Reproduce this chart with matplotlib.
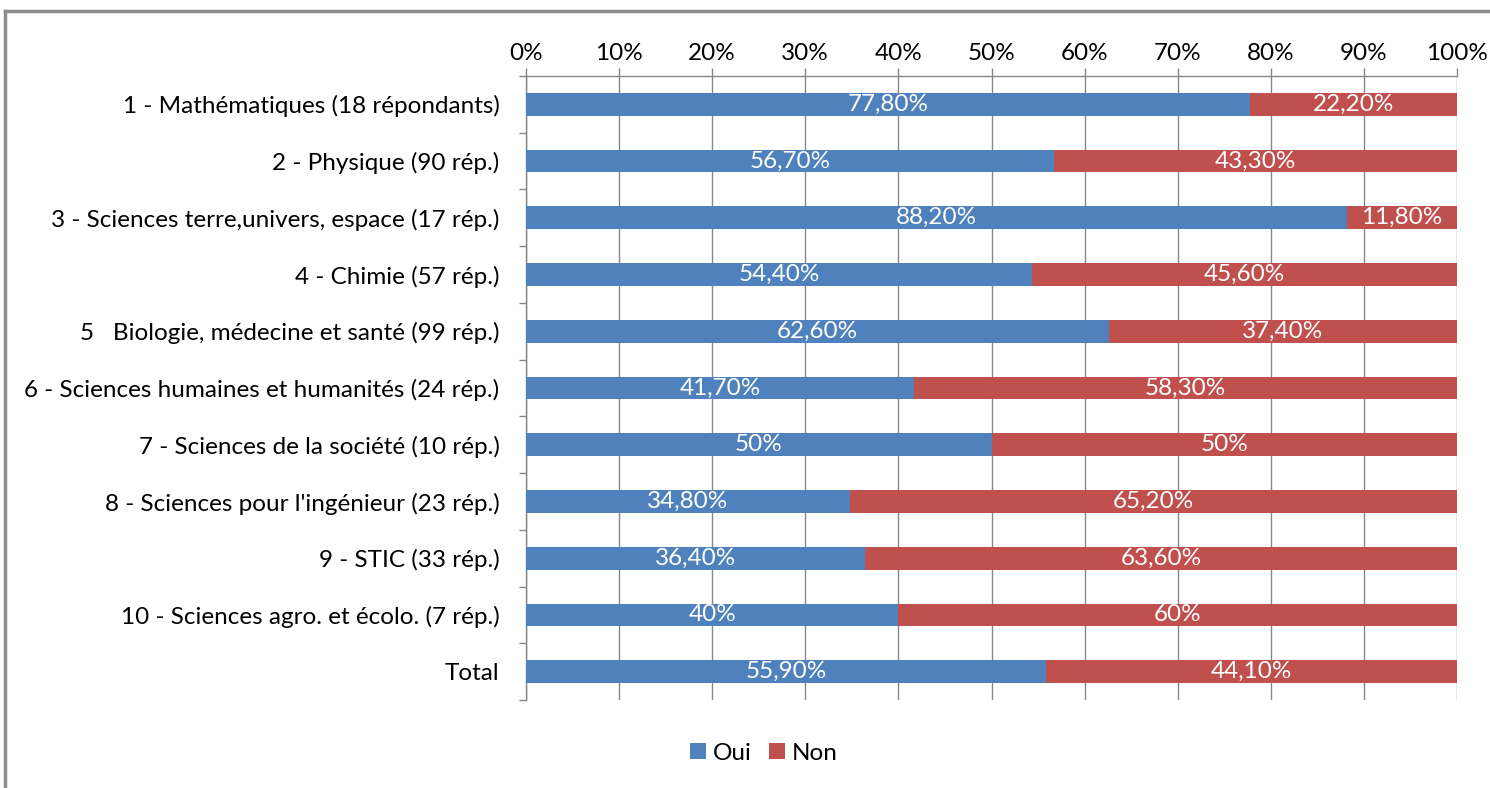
import numpy as np
import matplotlib
matplotlib.use("Agg")
import matplotlib.pyplot as plt
from matplotlib.lines import Line2D
from matplotlib.patches import Patch

plt.rcParams['font.family'] = ['Lato', 'DejaVu Sans']

# -----------------------------
# Data
# -----------------------------
categories = [
    "1 - Mathématiques (18 répondants)",
    "2 - Physique (90 rép.)",
    "3 - Sciences terre,univers, espace (17 rép.)",
    "4 - Chimie (57 rép.)",
    "5   Biologie, médecine et santé (99 rép.)",
    "6 - Sciences humaines et humanités (24 rép.)",
    "7 - Sciences de la société (10 rép.)",
    "8 - Sciences pour l'ingénieur (23 rép.)",
    "9 - STIC (33 rép.)",
    "10 - Sciences agro. et écolo. (7 rép.)",
    "Total",
]
oui = [77.8, 56.7, 88.2, 54.4, 62.6, 41.7, 50.0, 34.8, 36.4, 40.0, 55.9]
non = [22.2, 43.3, 11.8, 45.6, 37.4, 58.3, 50.0, 65.2, 63.6, 60.0, 44.1]
x_ticks = [0, 10, 20, 30, 40, 50, 60, 70, 80, 90, 100]

BLUE = '#4F81BD'
RED = '#C0504D'
GRID = '#868686'
FS = 17.5


def fmt_pct(v):
    if float(v).is_integer():
        return f"{int(v)}%"
    return f"{v:.2f}%".replace('.', ',')


fig = plt.figure(figsize=(14.9, 7.88), dpi=100)
ax = fig.add_axes([526 / 1490, 1 - 700 / 788, (1457 - 526) / 1490, (700 - 76) / 788])

y = np.arange(len(categories))
bar_h = 0.4
ax.barh(y, oui, height=bar_h, color=BLUE, label='Oui', zorder=3)
ax.barh(y, non, left=oui, height=bar_h, color=RED, label='Non', zorder=3)

for i in range(len(categories)):
    ax.text(oui[i] / 2, y[i], fmt_pct(oui[i]), ha='center', va='center',
            color='white', fontsize=FS, zorder=4)
    ax.text(oui[i] + non[i] / 2, y[i], fmt_pct(non[i]), ha='center', va='center',
            color='white', fontsize=FS, zorder=4)

ax.set_xlim(0, 100)
ax.set_ylim(len(categories) - 0.5, -0.5)

# x axis on top
ax.xaxis.tick_top()
ax.set_xticks(x_ticks)
ax.set_xticklabels([f"{t}%" for t in x_ticks])
ax.tick_params(axis='x', which='major', length=6, width=1, color=GRID,
               labelsize=FS, pad=3, direction='out')
ax.grid(axis='x', color=GRID, linewidth=1, zorder=0)

# y axis: labels at centers, tick marks at category boundaries
ax.set_yticks(y)
ax.set_yticklabels(categories)
ax.tick_params(axis='y', which='major', length=0, labelsize=FS, pad=19)
ax.set_yticks(np.arange(-0.5, len(categories) + 0.5, 1), minor=True)
ax.tick_params(axis='y', which='minor', length=5, width=1, color=GRID, direction='out')

for s in ['right', 'bottom']:
    ax.spines[s].set_visible(False)
for s in ['top', 'left']:
    ax.spines[s].set_color(GRID)
    ax.spines[s].set_linewidth(1)

# legend
fig.legend(handles=[Patch(facecolor=BLUE, label='Oui'), Patch(facecolor=RED, label='Non')],
           loc='center', bbox_to_anchor=(764 / 1490, 1 - 753 / 788), ncol=2,
           frameon=False, fontsize=FS, handlelength=0.65, handleheight=0.65,
           handletextpad=0.3, columnspacing=0.7)

# outer frame (left and top edges)
fig.add_artist(Line2D([4.5 / 1490, 4.5 / 1490], [0, 1 - 10.5 / 788],
                      transform=fig.transFigure, color='#8C8C8C', linewidth=2.5))
fig.add_artist(Line2D([4.5 / 1490, 1], [1 - 10.5 / 788, 1 - 10.5 / 788],
                      transform=fig.transFigure, color='#8C8C8C', linewidth=2.5))

fig.savefig("out.png", dpi=100)
plt.close(fig)
